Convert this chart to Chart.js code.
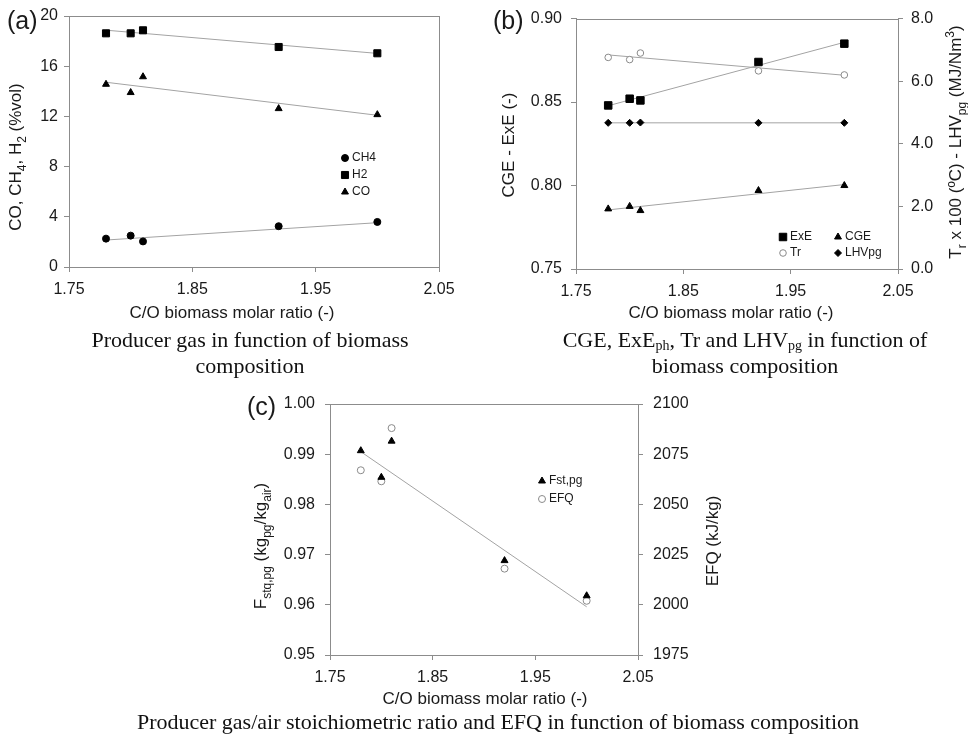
<!DOCTYPE html>
<html lang="en">
<head>
<meta charset="UTF-8" />
<title>Biomass composition - gasification results</title>
<script src="https://cdn.jsdelivr.net/npm/chart.js"></script>
<style>
  body { margin: 0; background: #fff; }
  #page { position: relative; width: 968px; height: 740px; overflow: hidden; }
  #page canvas { position: absolute; left: 0; top: 0; }
  .cap {
    position: absolute;
    font-family: 'Liberation Serif', 'Times New Roman', serif;
    font-size: 22px;
    line-height: 26px;
    color: #111;
    text-align: center;
    white-space: nowrap;
    transform: translateX(-50%);
  }
  .cap sub { font-size: 14px; line-height: 0; vertical-align: -3px; }
</style>
</head>
<body>
<div id="page">
  <canvas id="chartA" width="968" height="740"></canvas>
  <canvas id="chartB" width="968" height="740"></canvas>
  <canvas id="chartC" width="968" height="740"></canvas>
  <div class="cap" style="left:250px; top:327px;">Producer gas in function of biomass<br>composition</div>
  <div class="cap" style="left:745px; top:327px;">CGE, ExE<sub>ph</sub>, Tr and LHV<sub>pg</sub> in function of<br>biomass composition</div>
  <div class="cap" style="left:498px; top:709px;">Producer gas/air stoichiometric ratio and EFQ in function of biomass composition</div>
</div>

<script>
// C/O molar ratio of the five biomasses
const ratio = [1.78, 1.80, 1.81, 1.92, 2.00];
const trendEnds = [1.78, 2.00];
const xTicks = [1.75, 1.85, 1.95, 2.05];

// (a) producer gas composition, %vol
const ch4 = [2.26, 2.50, 2.04, 3.25, 3.59];
const h2 = [18.62, 18.62, 18.86, 17.53, 17.03];
const co = [14.56, 13.90, 15.16, 12.62, 12.14];
const ch4Trend = [2.15, 3.53];
const h2Trend = [18.87, 17.02];
const coTrend = [14.72, 12.09];
const gasTicks = [0, 4, 8, 12, 16, 20];

// (b) efficiencies (left) and Tr x 100 / LHVpg (right)
const exe = [0.848, 0.852, 0.851, 0.874, 0.885];
const cge = [0.786, 0.7875, 0.785, 0.797, 0.800];
const tr = [6.76, 6.69, 6.90, 6.33, 6.20];
const lhv = [4.67, 4.67, 4.68, 4.67, 4.67];
const exeTrend = [0.8478, 0.8858];
const cgeTrend = [0.7854, 0.8006];
const trTrend = [6.84, 6.19];
const lhvTrend = [4.67, 4.67];
const effTicks = [0.75, 0.80, 0.85, 0.90];
const energyTicks = [0, 2, 4, 6, 8];

// (c) stoichiometric ratio (left) and EFQ (right)
const fst = [0.9907, 0.9854, 0.9926, 0.9688, 0.9618];
const efq = [2067, 2061.5, 2088, 2018, 2002];
const fstTrend = [0.9905, 0.9596];
const fstTicks = [0.95, 0.96, 0.97, 0.98, 0.99, 1.00];
const efqTicks = [1975, 2000, 2025, 2050, 2075, 2100];

const AXIS = '#8c8c8c';
const INK = '#1a1a1a';
const SANS = "'Liberation Sans', Arial, sans-serif";
const tickFont = { family: SANS, size: 16 };

const pts = (xs, ys) => xs.map((x, i) => ({ x, y: ys[i] }));

function marks(label, ys, style, size, axis, open) {
  return {
    label, data: pts(ratio, ys), yAxisID: axis, showLine: false,
    pointStyle: style, pointRadius: size, pointHoverRadius: size,
    pointBackgroundColor: open ? '#fff' : '#000',
    pointBorderColor: open ? '#8a8a8a' : '#000',
    pointBorderWidth: 1
  };
}

function trend(ys, axis) {
  return {
    label: '', data: pts(trendEnds, ys), yAxisID: axis, showLine: true,
    borderColor: '#a3a3a3', borderWidth: 1, pointRadius: 0
  };
}

function xScale() {
  return {
    type: 'linear', min: xTicks[0], max: xTicks[xTicks.length - 1],
    afterBuildTicks: s => { s.ticks = xTicks.map(v => ({ value: v })); },
    afterFit: s => { s.height = 30; },
    grid: { drawOnChartArea: false, color: AXIS, tickLength: 5 },
    border: { color: AXIS },
    ticks: { color: INK, font: tickFont, padding: 8, maxRotation: 0, autoSkip: false, callback: v => v.toFixed(2) }
  };
}

function yScale(position, list, digits, width, pad) {
  return {
    type: 'linear', position, min: list[0], max: list[list.length - 1],
    afterBuildTicks: s => { s.ticks = list.map(v => ({ value: v })); },
    afterFit: s => { s.width = width; },
    grid: { drawOnChartArea: false, color: AXIS, tickLength: 5 },
    border: { color: AXIS },
    ticks: { color: INK, font: tickFont, padding: pad, autoSkip: false, callback: v => v.toFixed(digits) }
  };
}

// text with sub/superscripts, centred on (cx, cy), optionally rotated
function richText(ctx, parts, cx, cy, rotate, size) {
  const fontFor = p => ((p.sub || p.sup) ? Math.round(size * 0.68) : size) + 'px ' + SANS;
  let total = 0;
  parts.forEach(p => { ctx.font = fontFor(p); p.w = ctx.measureText(p.t).width; total += p.w; });
  ctx.save();
  ctx.translate(cx, cy);
  if (rotate) ctx.rotate(-Math.PI / 2);
  ctx.fillStyle = INK;
  ctx.textBaseline = 'alphabetic';
  let x = -total / 2;
  parts.forEach(p => {
    ctx.font = fontFor(p);
    const dy = p.sub ? size * 0.28 : p.sup ? -size * 0.42 : 0;
    ctx.fillText(p.t, x, size * 0.36 + dy);
    x += p.w;
  });
  ctx.restore();
}

const decor = {
  id: 'decor',
  beforeDatasetsDraw(chart) {
    const { ctx, chartArea: a } = chart;
    ctx.save();
    ctx.strokeStyle = AXIS;
    ctx.lineWidth = 1;
    ctx.strokeRect(Math.round(a.left) + 0.5, Math.round(a.top) + 0.5, Math.round(a.width), Math.round(a.height));
    ctx.restore();
  },
  afterDraw(chart, args, opts) {
    const ctx = chart.ctx;
    ctx.save();
    ctx.fillStyle = INK;
    ctx.font = '25px ' + SANS;
    ctx.textBaseline = 'middle';
    ctx.fillText(opts.tag[0], opts.tag[1], opts.tag[2]);
    ctx.restore();

    opts.titles.forEach(t => richText(ctx, t.parts, t.x, t.y, t.rotate, 17));

    opts.legend.forEach(item => {
      const ds = chart.data.datasets[item.ds];
      ctx.save();
      ctx.fillStyle = ds.pointBackgroundColor;
      ctx.strokeStyle = ds.pointBorderColor;
      ctx.lineWidth = 1;
      Chart.helpers.drawPoint(ctx, { pointStyle: ds.pointStyle, radius: ds.pointRadius, rotation: 0, borderWidth: 1 }, item.x, item.y);
      ctx.fillStyle = INK;
      ctx.font = '12px ' + SANS;
      ctx.textBaseline = 'middle';
      ctx.fillText(ds.label, item.x + 7, item.y);
      ctx.restore();
    });
  }
};

function makeChart(id, datasets, scales, pad, decorOpts) {
  return new Chart(document.getElementById(id), {
    type: 'scatter',
    data: { datasets },
    options: {
      responsive: false,
      animation: false,
      events: [],
      layout: { padding: pad },
      plugins: { legend: { display: false }, tooltip: { enabled: false }, decor: decorOpts },
      scales
    },
    plugins: [decor]
  });
}

const xTitle = [{ t: 'C/O biomass molar ratio (-)' }];

makeChart('chartA',
  [
    marks('CH4', ch4, 'circle', 3.5, 'y'),
    marks('H2', h2, 'rect', 5, 'y'),
    marks('CO', co, 'triangle', 4, 'y'),
    trend(ch4Trend, 'y'),
    trend(h2Trend, 'y'),
    trend(coTrend, 'y')
  ],
  { x: xScale(), y: yScale('left', gasTicks, 0, 45, 6) },
  { left: 24, top: 16, right: 529, bottom: 443 },
  {
    tag: ['(a)', 7, 22],
    titles: [
      { parts: [{ t: 'CO, CH' }, { t: '4', sub: 1 }, { t: ', H' }, { t: '2', sub: 1 }, { t: ' (%vol)' }], x: 15, y: 157, rotate: true },
      { parts: xTitle, x: 232, y: 312 }
    ],
    legend: [{ ds: 0, x: 345, y: 158 }, { ds: 1, x: 345, y: 175 }, { ds: 2, x: 345, y: 192 }]
  });

makeChart('chartB',
  [
    marks('ExE', exe, 'rect', 5.3, 'y'),
    marks('CGE', cge, 'triangle', 4, 'y'),
    marks('Tr', tr, 'circle', 3.3, 'y2', true),
    marks('LHVpg', lhv, 'rectRot', 3.5, 'y2'),
    trend(exeTrend, 'y'),
    trend(cgeTrend, 'y'),
    trend(trTrend, 'y2'),
    trend(lhvTrend, 'y2')
  ],
  { x: xScale(), y: yScale('left', effTicks, 2, 50, 9), y2: yScale('right', energyTicks, 1, 60, 8) },
  { left: 526, top: 16, right: 10, bottom: 441 },
  {
    tag: ['(b)', 493, 22],
    titles: [
      { parts: [{ t: 'CGE - ExE (-)' }], x: 508, y: 145, rotate: true },
      { parts: [{ t: 'T' }, { t: 'r', sub: 1 }, { t: ' x 100 (ºC) - LHV' }, { t: 'pg', sub: 1 }, { t: ' (MJ/Nm' }, { t: '3', sup: 1 }, { t: ')' }], x: 955, y: 142, rotate: true },
      { parts: xTitle, x: 731, y: 312 }
    ],
    legend: [{ ds: 0, x: 783, y: 237 }, { ds: 1, x: 838, y: 237 }, { ds: 2, x: 783, y: 253 }, { ds: 3, x: 838, y: 253 }]
  });

makeChart('chartC',
  [
    marks('Fst,pg', fst, 'triangle', 4, 'y'),
    marks('EFQ', efq, 'circle', 3.5, 'y2', true),
    trend(fstTrend, 'y')
  ],
  { x: xScale(), y: yScale('left', fstTicks, 2, 55, 10), y2: yScale('right', efqTicks, 0, 60, 10) },
  { left: 275, top: 404, right: 270, bottom: 55 },
  {
    tag: ['(c)', 247, 408],
    titles: [
      { parts: [{ t: 'F' }, { t: 'stq,pg', sub: 1 }, { t: ' (kg' }, { t: 'pg', sub: 1 }, { t: '/kg' }, { t: 'air', sub: 1 }, { t: ')' }], x: 260, y: 546, rotate: true },
      { parts: [{ t: 'EFQ (kJ/kg)' }], x: 712, y: 541, rotate: true },
      { parts: xTitle, x: 485, y: 698 }
    ],
    legend: [{ ds: 0, x: 542, y: 481 }, { ds: 1, x: 542, y: 499 }]
  });
</script>
</body>
</html>
